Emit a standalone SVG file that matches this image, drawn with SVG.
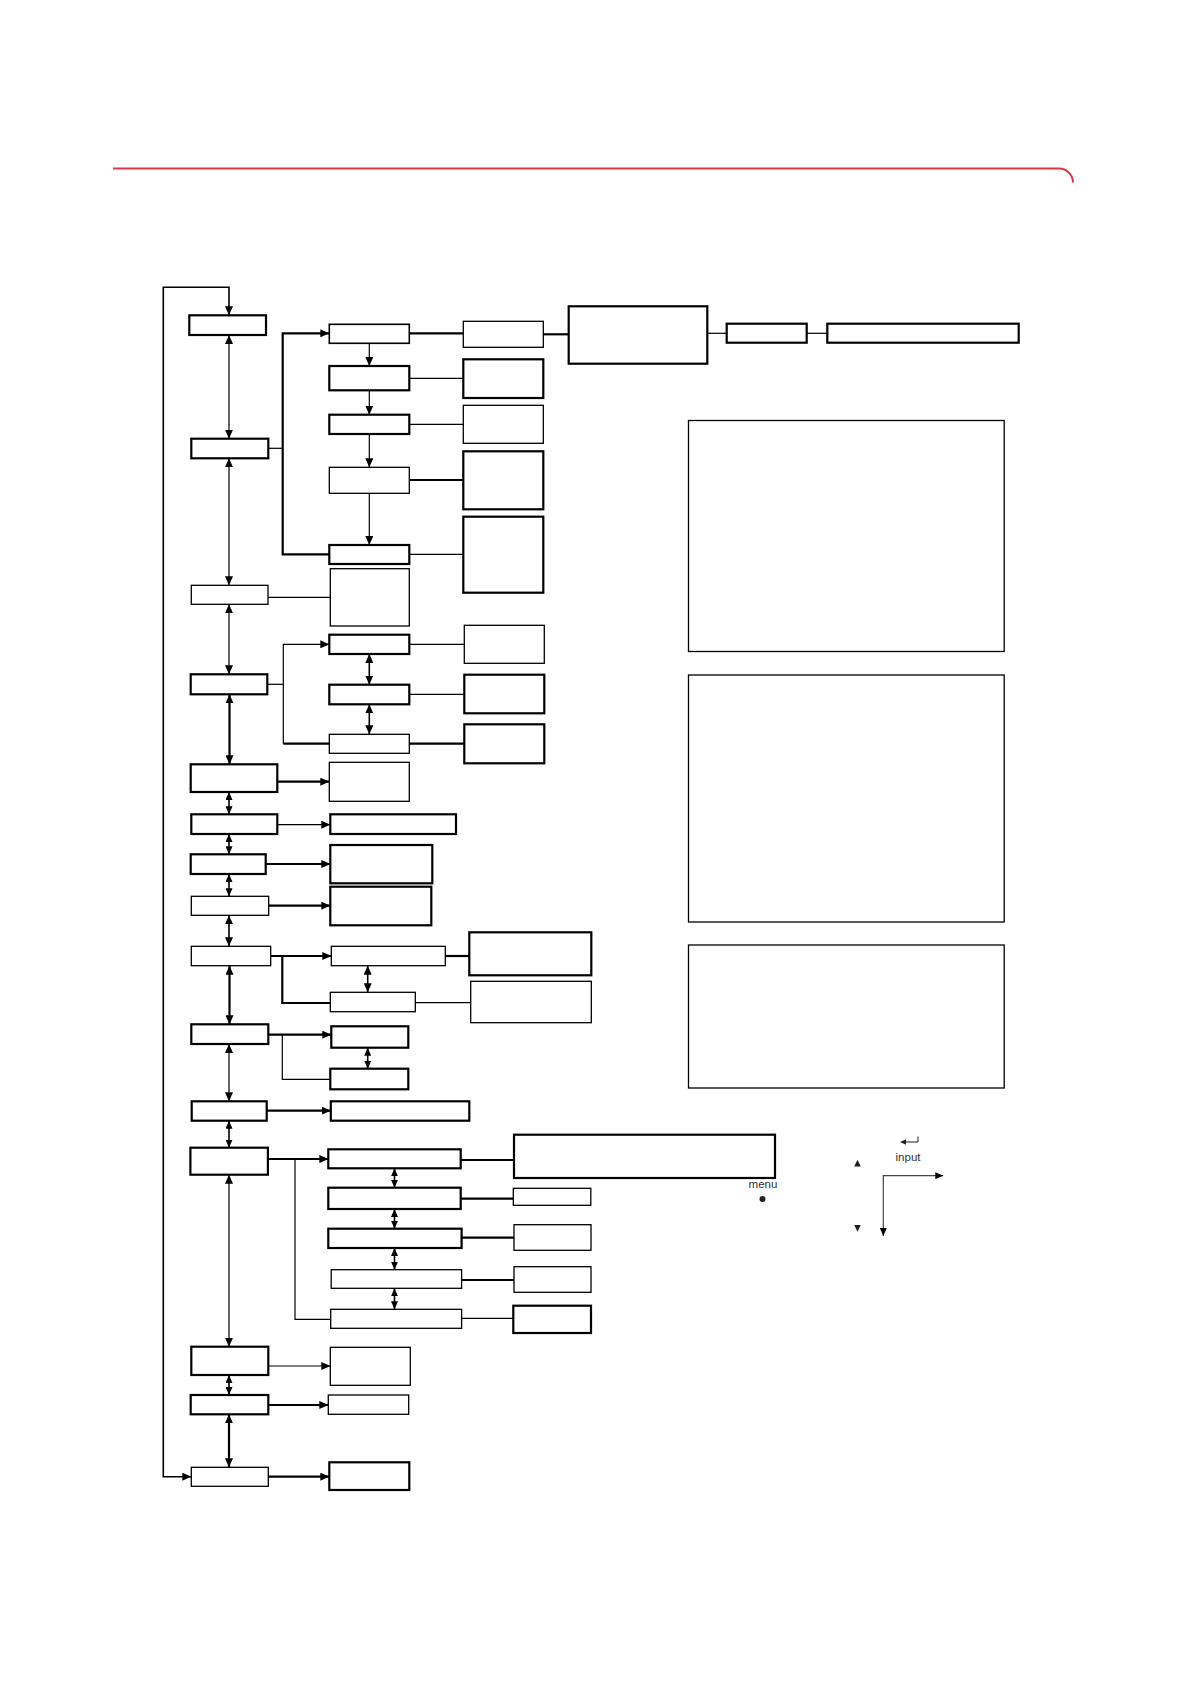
<svg xmlns="http://www.w3.org/2000/svg" width="1190" height="1684" viewBox="0 0 1190 1684">
<defs>
<marker id="ah" viewBox="0 0 9 8" refX="9" refY="4" markerWidth="9" markerHeight="8" markerUnits="userSpaceOnUse" orient="auto-start-reverse"><path d="M0,0L9,4L0,8z" style="fill:#000;stroke:none"/></marker>
<marker id="as" viewBox="0 0 8 7" refX="8" refY="3.5" markerWidth="8" markerHeight="7" markerUnits="userSpaceOnUse" orient="auto-start-reverse"><path d="M0,0L8,3.5L0,7z" style="fill:#000;stroke:none"/></marker>
</defs>
<style>
rect{fill:#fff;stroke:#000;stroke-width:1.3}
rect.t{stroke-width:2.2}
.c{fill:none;stroke:#000;stroke-width:1.2}
.k{stroke-width:2.2}
.m{stroke-width:1.6}
.a{marker-end:url(#ah)}
.d{marker-start:url(#ah);marker-end:url(#ah)}
.ds{marker-start:url(#as);marker-end:url(#as)}
text{font-family:"Liberation Sans",Arial,sans-serif;font-size:11.5px;fill:#333}
</style>
<rect x="0" y="0" width="1190" height="1684" style="fill:#fff;stroke:none"/>
<path d="M113,168.5 H1059 A14,14 0 0 1 1073,182.5" style="fill:none;stroke:#dc3645;stroke-width:2"/>

<g id="main-column">
<g id="A1"><rect class="t" x="189.3" y="315.3" width="76.7" height="19.7"/></g>
<g id="A2"><rect class="t" x="191.3" y="438.7" width="77" height="19.6"/></g>
<g id="A3"><rect x="191.3" y="585.3" width="76.7" height="19"/></g>
<g id="A4"><rect class="t" x="190.7" y="674.3" width="76.6" height="20"/></g>
<g id="A5"><rect class="t" x="190.7" y="764.3" width="86.6" height="27.7"/></g>
<g id="A6"><rect class="t" x="191.3" y="814.3" width="86" height="19.7"/></g>
<g id="A7"><rect class="t" x="190.7" y="854.3" width="75" height="19.7"/></g>
<g id="A8"><rect x="191.3" y="896.3" width="77.4" height="19"/></g>
<g id="A9"><rect x="191.3" y="946.3" width="79.4" height="19.4"/></g>
<g id="A10"><rect class="t" x="191.3" y="1024.3" width="77" height="19.7"/></g>
<g id="A11"><rect class="t" x="191.7" y="1101.3" width="75" height="19.4"/></g>
<g id="A12"><rect class="t" x="190.4" y="1147.7" width="77.5" height="27"/></g>
<g id="A13"><rect class="t" x="191.3" y="1346.7" width="77" height="28.3"/></g>
<g id="A14"><rect class="t" x="190.7" y="1395" width="77.6" height="19.3"/></g>
<g id="A15"><rect x="191.3" y="1467.3" width="77" height="19"/></g>
</g>

<g id="second-column">
<g id="B1"><rect x="329.3" y="324.3" width="80" height="19" style="stroke-width:1.6"/></g>
<g id="B2"><rect class="t" x="329.3" y="366" width="80" height="24.3"/></g>
<g id="B3"><rect class="t" x="329.3" y="414.7" width="80" height="19.3"/></g>
<g id="B4"><rect x="329.3" y="467.3" width="80" height="26"/></g>
<g id="B5"><rect class="t" x="329.3" y="545" width="80" height="19"/></g>
<g id="B6"><rect x="330.3" y="568.7" width="79" height="57.3"/></g>
<g id="B7"><rect class="t" x="329.3" y="634.7" width="80" height="19.3"/></g>
<g id="B8"><rect class="t" x="329.3" y="684.7" width="80" height="19.6"/></g>
<g id="B9"><rect x="329.3" y="734.3" width="80" height="19"/></g>
<g id="B10"><rect x="329.3" y="762.3" width="80" height="39"/></g>
<g id="B11"><rect class="t" x="330.3" y="814.3" width="125.7" height="19.7"/></g>
<g id="B12"><rect class="t" x="330.3" y="845" width="102" height="38.3"/></g>
<g id="B13"><rect class="t" x="330.3" y="886.7" width="101" height="38.6"/></g>
<g id="B14"><rect x="331.3" y="946.3" width="114" height="19.4"/></g>
<g id="B15"><rect x="330.3" y="992.3" width="85" height="19.4"/></g>
<g id="B16"><rect class="t" x="331.3" y="1026.3" width="77" height="21.4"/></g>
<g id="B17"><rect class="t" x="330.3" y="1068.7" width="78" height="20.6"/></g>
<g id="B18"><rect class="t" x="330.8" y="1101.3" width="138.5" height="19.4"/></g>
<g id="B19"><rect class="t" x="328.3" y="1149.3" width="132.4" height="19"/></g>
<g id="B20"><rect class="t" x="328.3" y="1187.7" width="132.4" height="21.3"/></g>
<g id="B21"><rect class="t" x="328.3" y="1228.7" width="133.3" height="19.3"/></g>
<g id="B22"><rect x="331.2" y="1269.7" width="130.4" height="18.6"/></g>
<g id="B23"><rect x="330.7" y="1309.3" width="130.9" height="19"/></g>
<g id="B24"><rect x="330.3" y="1347.3" width="80" height="38"/></g>
<g id="B25"><rect x="328.3" y="1395" width="80.4" height="19.3"/></g>
<g id="B26"><rect class="t" x="329.3" y="1462.3" width="80" height="27.7"/></g>
</g>

<g id="third-column">
<g id="C1"><rect x="463.3" y="321.3" width="80" height="26"/></g>
<g id="C2"><rect class="t" x="463.3" y="359.3" width="80" height="38.7"/></g>
<g id="C3"><rect x="463.3" y="405.3" width="80" height="38"/></g>
<g id="C4"><rect class="t" x="463.3" y="451.3" width="80" height="58"/></g>
<g id="C5"><rect class="t" x="463.3" y="516.7" width="80" height="76"/></g>
<g id="C6"><rect x="464.3" y="625.3" width="80" height="38"/></g>
<g id="C7"><rect class="t" x="464.3" y="674.7" width="80" height="38.6"/></g>
<g id="C8"><rect class="t" x="464.3" y="724.3" width="80" height="39"/></g>
<g id="C9"><rect class="t" x="469.3" y="932.3" width="122" height="43"/></g>
<g id="C10"><rect x="470.7" y="981.3" width="120.6" height="41.4"/></g>
<g id="C11"><rect class="t" x="514" y="1134.7" width="261" height="43.3"/></g>
<g id="C12"><rect x="513.3" y="1188.3" width="77.5" height="17"/></g>
<g id="C13"><rect x="514" y="1224.7" width="77" height="25.6"/></g>
<g id="C14"><rect x="514" y="1266.7" width="77" height="25.6"/></g>
<g id="C15"><rect class="t" x="513.3" y="1305.7" width="77.7" height="27.3"/></g>
</g>

<g id="top-right">
<g id="D1"><rect class="t" x="568.7" y="306.3" width="138.6" height="57.4"/></g>
<g id="D2"><rect class="t" x="726.7" y="323.7" width="80" height="19"/></g>
<g id="D3"><rect class="t" x="827.3" y="323.7" width="191.4" height="19"/></g>
</g>

<g id="panels">
<g id="E1"><rect x="688.5" y="420.5" width="315.7" height="231"/></g>
<g id="E2"><rect x="688.5" y="675" width="315.7" height="247"/></g>
<g id="E3"><rect x="688.5" y="945" width="315.7" height="143"/></g>
</g>

<g id="connectors">
<path class="c m d" d="M191.3,1476.7 H163.3 V287.3 H229 V315.3"/>
<path class="c d" d="M229,335 V438.7"/>
<path class="c d" d="M229,458.3 V585.3"/>
<path class="c d" d="M229,604.3 V674.3"/>
<path class="c k d" d="M229.5,694.3 V764.3"/>
<path class="c m ds" d="M229,792 V814.3"/>
<path class="c m ds" d="M229,834 V854.3"/>
<path class="c m ds" d="M229,874 V896.3"/>
<path class="c m d" d="M229,915.3 V946.3"/>
<path class="c k d" d="M229.5,965.7 V1024.3"/>
<path class="c d" d="M229,1044 V1101.3"/>
<path class="c m ds" d="M229,1120.7 V1147.7"/>
<path class="c d" d="M229,1174.7 V1346.7"/>
<path class="c m ds" d="M229,1375 V1395"/>
<path class="c k d" d="M229,1414.3 V1467.3"/>

<path class="c" d="M268.3,448.3 H282.7"/>
<path class="c k a" d="M329.3,554.3 H282.7 V333.3 H329.3"/>
<path class="c a" d="M369.3,343.3 V366"/>
<path class="c a" d="M369.3,390.3 V414.7"/>
<path class="c a" d="M369.3,434 V467.3"/>
<path class="c a" d="M369.3,493.3 V545"/>
<path class="c k" d="M409.3,333.3 H463.3"/>
<path class="c" d="M409.3,378.3 H463.3"/>
<path class="c" d="M409.3,424.3 H463.3"/>
<path class="c k" d="M409.3,480 H463.3"/>
<path class="c" d="M409.3,554.3 H463.3"/>
<path class="c k" d="M543.3,334.3 H568.7"/>
<path class="c" d="M707.3,333.3 H726.7"/>
<path class="c" d="M806.7,333.3 H827.3"/>

<path class="c" d="M268,597.3 H330.3"/>

<path class="c" d="M267.3,684.3 H283.3"/>
<path class="c a" d="M283.3,743.7 V644.3 H329.3"/>
<path class="c k" d="M283.3,743.7 H329.3"/>
<path class="c m d" d="M369.3,654 V684.7"/>
<path class="c m d" d="M369.3,704.3 V734.3"/>
<path class="c" d="M409.3,644.3 H464.3"/>
<path class="c" d="M409.3,694.3 H464.3"/>
<path class="c k" d="M409.3,743.7 H464.3"/>

<path class="c k a" d="M277.3,781.7 H329.3"/>
<path class="c a" d="M277.3,824.7 H330.3"/>
<path class="c k a" d="M265.7,864 H330.3"/>
<path class="c k a" d="M268.7,905.7 H330.3"/>

<path class="c k a" d="M270.7,956 H331.3"/>
<path class="c k" d="M282.3,956 V1003 H330.3"/>
<path class="c m d" d="M367.7,965.7 V992.3"/>
<path class="c k" d="M445.3,956 H469.3"/>
<path class="c" d="M415.3,1002.7 H470.7"/>

<path class="c k a" d="M268.3,1034.7 H331.3"/>
<path class="c" d="M282.3,1034.7 V1079.3 H330.3"/>
<path class="c m ds" d="M367.7,1047.7 V1068.7"/>

<path class="c k a" d="M266.7,1110.7 H330.8"/>

<path class="c k a" d="M267.9,1159 H328.3"/>
<path class="c" d="M295,1159 V1319.3 H330.7"/>
<path class="c m ds" d="M394.5,1168.3 V1187.7"/>
<path class="c m ds" d="M394.5,1209 V1228.7"/>
<path class="c m ds" d="M394.5,1248 V1269.7"/>
<path class="c m ds" d="M394.5,1288.3 V1309.3"/>
<path class="c k" d="M460.7,1160 H514"/>
<path class="c k" d="M460.7,1198.7 H513.3"/>
<path class="c k" d="M461.6,1237.7 H514"/>
<path class="c k" d="M461.6,1280 H514"/>
<path class="c" d="M461.6,1318.3 H513.3"/>

<path class="c a" d="M268.3,1366 H330.3"/>
<path class="c k a" d="M268.3,1405 H328.3"/>
<path class="c k a" d="M268.3,1476.7 H329.3"/>
</g>

<g id="legend">
<text x="763" y="1188" text-anchor="middle">menu</text>
<circle cx="762.5" cy="1199" r="3" style="fill:#222"/>
<text x="908" y="1161" text-anchor="middle">input</text>
<path d="M918,1136.5 V1142 H905" style="fill:none;stroke:#222;stroke-width:1"/>
<polygon points="900,1142 906,1139.3 906,1144.7" style="fill:#222"/>
<polygon points="857.5,1159.8 860.8,1166.6 854.2,1166.6" style="fill:#222"/>
<polygon points="857.5,1231.8 860.8,1225 854.2,1225" style="fill:#222"/>
<path class="ds" d="M943.3,1175.7 H883.3 V1236" style="fill:none;stroke:#444;stroke-width:1.2"/>
</g>
</svg>
